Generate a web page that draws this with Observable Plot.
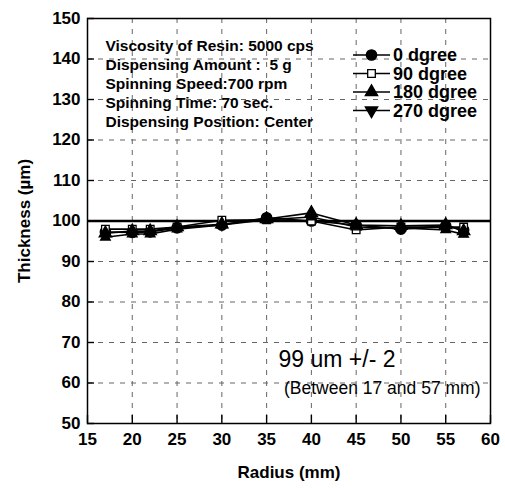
<!DOCTYPE html>
<html>
<head>
<meta charset="utf-8">
<script src="https://cdn.jsdelivr.net/npm/d3@7"></script>
<script src="https://cdn.jsdelivr.net/npm/@observablehq/plot@0.6"></script>
<style>
  html, body { margin: 0; padding: 0; background: #fff; }
  #chart { width: 505px; height: 488px; }
</style>
</head>
<body>
<div id="chart"></div>
<script>
// ---- data ----
const radius = [17, 20, 22, 25, 30, 35, 40, 45, 50, 55, 57];
const deg0   = [97.3, 97.2, 97.3, 98.3, 99.0, 100.8, 100.0, 99.0, 98.0, 98.8, 97.8];
const deg90  = [98.0, 98.0, 98.0, 98.5, 100.2, 100.3, 100.0, 97.8, 98.5, 98.5, 98.5];
const deg180 = [97.0, 97.5, 97.5, 98.5, 99.2, 100.5, 102.0, 99.0, 98.8, 99.0, 97.5];
const deg270 = [96.0, 96.8, 96.8, 98.0, 99.0, 100.3, 101.0, 98.5, 98.3, 97.8, 96.7];
const seriesNames = ["0 dgree", "90 dgree", "180 dgree", "270 dgree"];
const seriesValues = [deg0, deg90, deg180, deg270];
const seriesSymbols = ["circle", "square", "triangle", "triangle2"];
const seriesFills = ["black", "white", "black", "black"];
const xTicks = [15, 20, 25, 30, 35, 40, 45, 50, 55, 60];
const yTicks = [50, 60, 70, 80, 90, 100, 110, 120, 130, 140, 150];
const xGrid = [20, 25, 30, 35, 40, 45, 50, 55];
const yGrid = [60, 70, 80, 90, 110, 120, 130, 140];
const targetThickness = 100;
const infoLines = [
  "Viscosity of Resin: 5000 cps",
  "Dispensing Amount :  5 g",
  "Spinning Speed:700 rpm",
  "Spinning Time: 70 sec.",
  "Dispensing Position: Center"
];
const specText = "99 um +/- 2";
const rangeText = "(Between 17 and 57 mm)";

// ---- table ----
const rows = [];
seriesNames.forEach((name, i) => {
  radius.forEach((r, j) => rows.push({series: name, radius: r, thickness: seriesValues[i][j], idx: i}));
});

const W = 505, H = 488, mL = 87, mR = 15, mT = 18, mB = 65;
const frameW = W - mL - mR, frameH = H - mT - mB;
const font = "'Liberation Sans', Arial, Helvetica, sans-serif";
const symR = {circle: 5.2, square: 4.3, triangle: 4.6, triangle2: 4.6};

const marks = [
  Plot.ruleX(xGrid, {x: d => d, stroke: "#666", strokeWidth: 1, strokeDasharray: "5,6"}),
  Plot.ruleY(yGrid, {y: d => d, stroke: "#666", strokeWidth: 1, strokeDasharray: "5,6"}),
  Plot.ruleY([targetThickness], {y: d => d, stroke: "black", strokeWidth: 2.6}),
  Plot.tickY(yTicks, {y: d => d, stroke: "black", strokeWidth: 1.4, insetRight: frameW - 7}),
  Plot.tickX(xTicks, {x: d => d, stroke: "black", strokeWidth: 1.4, insetTop: frameH - 8}),
  Plot.axisX({ticks: xTicks, tickSize: 0, tickPadding: 9, fontSize: 17, fontWeight: "bold",
    label: "Radius (mm)", labelArrow: "none", labelAnchor: "center", labelOffset: 54}),
  Plot.axisY({ticks: yTicks, tickSize: 0, tickPadding: 7, fontSize: 17, fontWeight: "bold",
    label: "Thickness (µm)", labelArrow: "none", labelAnchor: "center", labelOffset: 70}),
];
seriesNames.forEach((name, i) => {
  const d = rows.filter(r => r.idx === i);
  marks.push(Plot.line(d, {x: "radius", y: "thickness", stroke: "black", strokeWidth: 1.6}));
});
seriesNames.forEach((name, i) => {
  const d = rows.filter(r => r.idx === i);
  marks.push(Plot.dot(d, {x: "radius", y: "thickness", symbol: () => seriesSymbols[i],
    r: symR[seriesSymbols[i]],
    fill: seriesFills[i], stroke: "black", strokeWidth: 1.3}));
});
marks.push(
  Plot.text([infoLines.join("\n")], {frameAnchor: "top-left", dx: 18, dy: 19, textAnchor: "start",
    lineAnchor: "top", lineHeight: 1.22, fontSize: 15.5, fontWeight: "bold", fill: "black"}),
  Plot.text([specText], {frameAnchor: "bottom-left", dx: 191, dy: -64, textAnchor: "start",
    lineAnchor: "middle", fontSize: 23, fill: "black"}),
  Plot.text([rangeText], {frameAnchor: "bottom-right", dx: -10, dy: -35, textAnchor: "end",
    lineAnchor: "middle", fontSize: 17.5, fill: "black"}),
  Plot.frame({stroke: "black", strokeWidth: 1.5})
);

const chart = Plot.plot({
  width: W, height: H,
  marginLeft: mL, marginRight: mR, marginTop: mT, marginBottom: mB,
  x: {domain: [15, 60]},
  y: {domain: [50, 150]},
  style: {fontFamily: font, background: "white", color: "black", overflow: "visible"},
  marks
});

// ---- legend (inside plot area, top-right) ----
const svg = d3.select(chart);
const lg = svg.append("g").attr("font-family", font).attr("font-size", 18).attr("font-weight", "bold")
  .attr("text-anchor", "start");
const symMap = {circle: d3.symbolCircle, square: d3.symbolSquare, triangle: d3.symbolTriangle, triangle2: d3.symbolTriangle};
seriesNames.forEach((name, i) => {
  const y0 = 55 + i * 18.5;
  lg.append("line").attr("x1", 353).attr("x2", 390).attr("y1", y0).attr("y2", y0)
    .attr("stroke", "black").attr("stroke-width", 1.6);
  const s = seriesSymbols[i];
  const r = symR[s];
  lg.append("path").attr("transform", `translate(371.5,${y0})` + (s === "triangle2" ? " rotate(180)" : ""))
    .attr("d", d3.symbol(symMap[s], r * r * Math.PI)())
    .attr("fill", seriesFills[i]).attr("stroke", "black").attr("stroke-width", 1.3);
  lg.append("text").attr("x", 393).attr("y", y0).attr("dy", "0.35em").attr("text-anchor", "start").text(name);
});

document.getElementById("chart").appendChild(chart);
</script>
</body>
</html>
